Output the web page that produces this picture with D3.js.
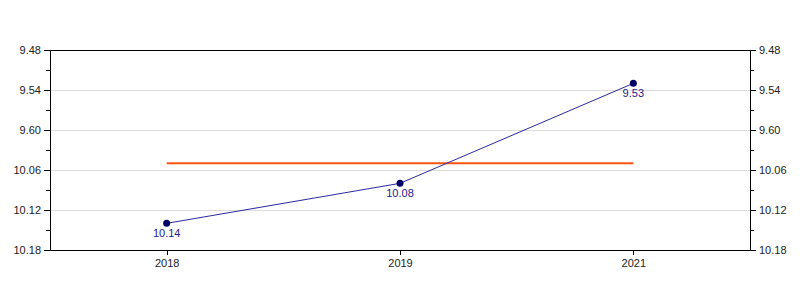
<!DOCTYPE html>
<meta charset="utf-8">
<style>
  body { margin: 0; background: #fff; }
  text { font-family: "Liberation Sans", Arial, sans-serif; }
</style>
<body>
  <script src="https://cdn.jsdelivr.net/npm/d3@7"></script>
  <script>
    // data: times in min.sec notation
    var years = ["2018", "2019", "2021"];
    var labels = ["10.14", "10.08", "9.53"];
    // same values as seconds
    var seconds = [614, 608, 593];
    var tickSeconds = [588, 594, 600, 606, 612, 618];
    var tickLabels = ["9.48", "9.54", "9.60", "10.06", "10.12", "10.18"];
    var minorSeconds = [591, 597, 603, 609, 615];

    var margin = { top: 50, right: 50, bottom: 50, left: 50 },
      width = 800 - margin.left - margin.right,
      height = 300 - margin.top - margin.bottom;

    var svg = d3.select("body").append("svg")
      .attr("width", 800)
      .attr("height", 300);

    var g = svg.append("g")
      .attr("transform", "translate(" + margin.left + "," + margin.top + ")");

    var x = d3.scalePoint().domain(years).range([0, width]).padding(0.5);
    var y = d3.scaleLinear().domain([588, 618]).range([0, height]);

    // grid
    g.selectAll(".grid")
      .data(tickSeconds.slice(1, -1))
      .enter().append("line")
      .attr("x1", 0).attr("x2", width)
      .attr("y1", function(d) { return y(d); })
      .attr("y2", function(d) { return y(d); })
      .style("stroke", "#dddddd")
      .style("shape-rendering", "crispEdges");

    function fmt(d) { return tickLabels[tickSeconds.indexOf(d)]; }

    var left = g.append("g").call(d3.axisLeft(y).tickValues(tickSeconds).tickFormat(fmt).tickSize(6));
    var right = g.append("g").attr("transform", "translate(" + width + ",0)")
      .call(d3.axisRight(y).tickValues(tickSeconds).tickFormat(fmt).tickSize(6));
    g.append("g").call(d3.axisLeft(y).tickValues(minorSeconds).tickFormat("").tickSize(4))
      .select(".domain").remove();
    g.append("g").attr("transform", "translate(" + width + ",0)")
      .call(d3.axisRight(y).tickValues(minorSeconds).tickFormat("").tickSize(4))
      .select(".domain").remove();
    var bottom = g.append("g").attr("transform", "translate(0," + height + ")")
      .call(d3.axisBottom(x).tickSize(5).tickPadding(4));

    // top border
    g.append("line").attr("x1", 0).attr("x2", width).attr("y1", 0).attr("y2", 0)
      .style("stroke", "#000").style("shape-rendering", "crispEdges");

    svg.selectAll(".domain").attr("d", function() {
      return d3.select(this).attr("d");
    });
    svg.selectAll(".tick text").style("font-size", "11px").style("fill", "#222")
      .style("font-family", "'Liberation Sans', Arial, sans-serif");
    svg.selectAll(".domain, .tick line").style("shape-rendering", "crispEdges");
    left.selectAll(".domain").attr("d", "M0,0V" + height);
    right.selectAll(".domain").attr("d", "M0,0V" + height);
    bottom.selectAll(".domain").attr("d", "M0,0H" + width);

    // mean line
    var mean = d3.mean(seconds);
    g.append("line")
      .attr("x1", x(years[0])).attr("x2", x(years[years.length - 1]))
      .attr("y1", y(mean)).attr("y2", y(mean))
      .style("stroke", "#ff5511").style("stroke-width", 2);

    var line = d3.line()
      .x(function(d, i) { return x(years[i]); })
      .y(function(d) { return y(d); });

    g.append("path").datum(seconds)
      .attr("d", line)
      .style("fill", "none")
      .style("stroke", "#2a2aa0")
      .style("stroke-width", 1);

    g.selectAll(".dot").data(seconds).enter().append("circle")
      .attr("cx", function(d, i) { return x(years[i]); })
      .attr("cy", function(d) { return y(d); })
      .attr("r", 3.5)
      .style("fill", "#000066");

    g.selectAll(".lbl").data(seconds).enter().append("text")
      .attr("x", function(d, i) { return x(years[i]); })
      .attr("y", function(d) { return y(d) + 14; })
      .attr("text-anchor", "middle")
      .style("font-size", "11px")
      .style("fill", "#1a1a8c")
      .text(function(d, i) { return labels[i]; });
  </script>
</body>
